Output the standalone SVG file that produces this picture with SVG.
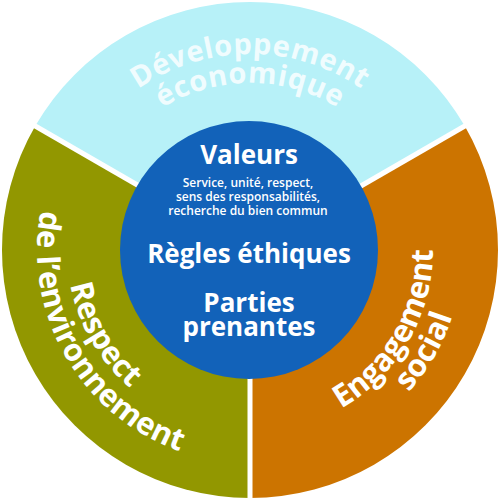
<svg xmlns="http://www.w3.org/2000/svg" width="500" height="501" viewBox="0 0 500 501">
  <style>
    .seg-label { font-family: "Open Sans", "DejaVu Sans", sans-serif; font-weight: 700; font-size: 31px; fill: #ffffff; }
    .top-label { fill: #f0fcfe; font-size: 29px; letter-spacing: 0.6px; }
    .center-big { font-family: "Open Sans", "DejaVu Sans", sans-serif; font-weight: 700; font-size: 26px; fill: #ffffff; text-anchor: middle; }
    .center-small { font-family: "Open Sans", "DejaVu Sans", sans-serif; font-weight: 600; font-size: 12px; fill: #ffffff; text-anchor: middle; }
    .divider { stroke: #ffffff; stroke-width: 5; }
  </style>
  <defs>
    <path id="arcTopOuter" d="M54,250 A196,196 0 0 1 446,250"/>
    <path id="arcTopInner" d="M83,250 A167,167 0 0 1 417,250"/>
    <path id="arcLeftInner" d="M158.5,91.5 A183,183 0 0 0 341.5,408.5"/>
    <path id="arcLeftOuter" d="M143.5,65.5 A213,213 0 0 0 356.5,434.5"/>
    <path id="arcRightInner" d="M158.5,408.5 A183,183 0 0 0 341.5,91.5"/>
    <path id="arcRightOuter" d="M143.5,434.5 A213,213 0 0 0 356.5,65.5"/>
  </defs>

  <g id="developpement-economique">
    <path d="M250,250 L35.22,126 A248,248 0 0 1 464.78,126 Z" fill="#b7f1f8"/>
    <text class="seg-label top-label"><textPath href="#arcTopOuter" startOffset="50%" text-anchor="middle">Développement</textPath></text>
    <text class="seg-label top-label"><textPath href="#arcTopInner" startOffset="50%" text-anchor="middle">économique</textPath></text>
  </g>

  <g id="engagement-social">
    <path d="M250,250 L464.78,126 A248,248 0 0 1 250,498 Z" fill="#cc7400"/>
    <text class="seg-label"><textPath href="#arcRightInner" startOffset="50%" text-anchor="middle">Engagement</textPath></text>
    <text class="seg-label"><textPath href="#arcRightOuter" startOffset="50%" text-anchor="middle">social</textPath></text>
  </g>

  <g id="respect-environnement">
    <path d="M250,250 L250,498 A248,248 0 0 1 35.22,126 Z" fill="#929700"/>
    <text class="seg-label"><textPath href="#arcLeftInner" startOffset="50%" text-anchor="middle">Respect</textPath></text>
    <text class="seg-label"><textPath href="#arcLeftOuter" startOffset="50%" text-anchor="middle">de l’environnement</textPath></text>
  </g>

  <g id="dividers">
    <line class="divider" x1="250" y1="250" x2="250" y2="501"/>
    <line class="divider" x1="250" y1="250" x2="30" y2="123"/>
    <line class="divider" x1="250" y1="250" x2="470" y2="123"/>
  </g>

  <g id="centre">
    <circle cx="249" cy="250" r="129" fill="#1262b9"/>
    <text class="center-big" x="249" y="164">Valeurs</text>
    <text class="center-small" x="248" y="187">Service, unité, respect,</text>
    <text class="center-small" x="248" y="201">sens des responsabilités,</text>
    <text class="center-small" x="248" y="215">recherche du bien commun</text>
    <text class="center-big" x="249" y="263">Règles éthiques</text>
    <text class="center-big" x="249" y="312">Parties</text>
    <text class="center-big" x="249" y="336">prenantes</text>
  </g>
</svg>
